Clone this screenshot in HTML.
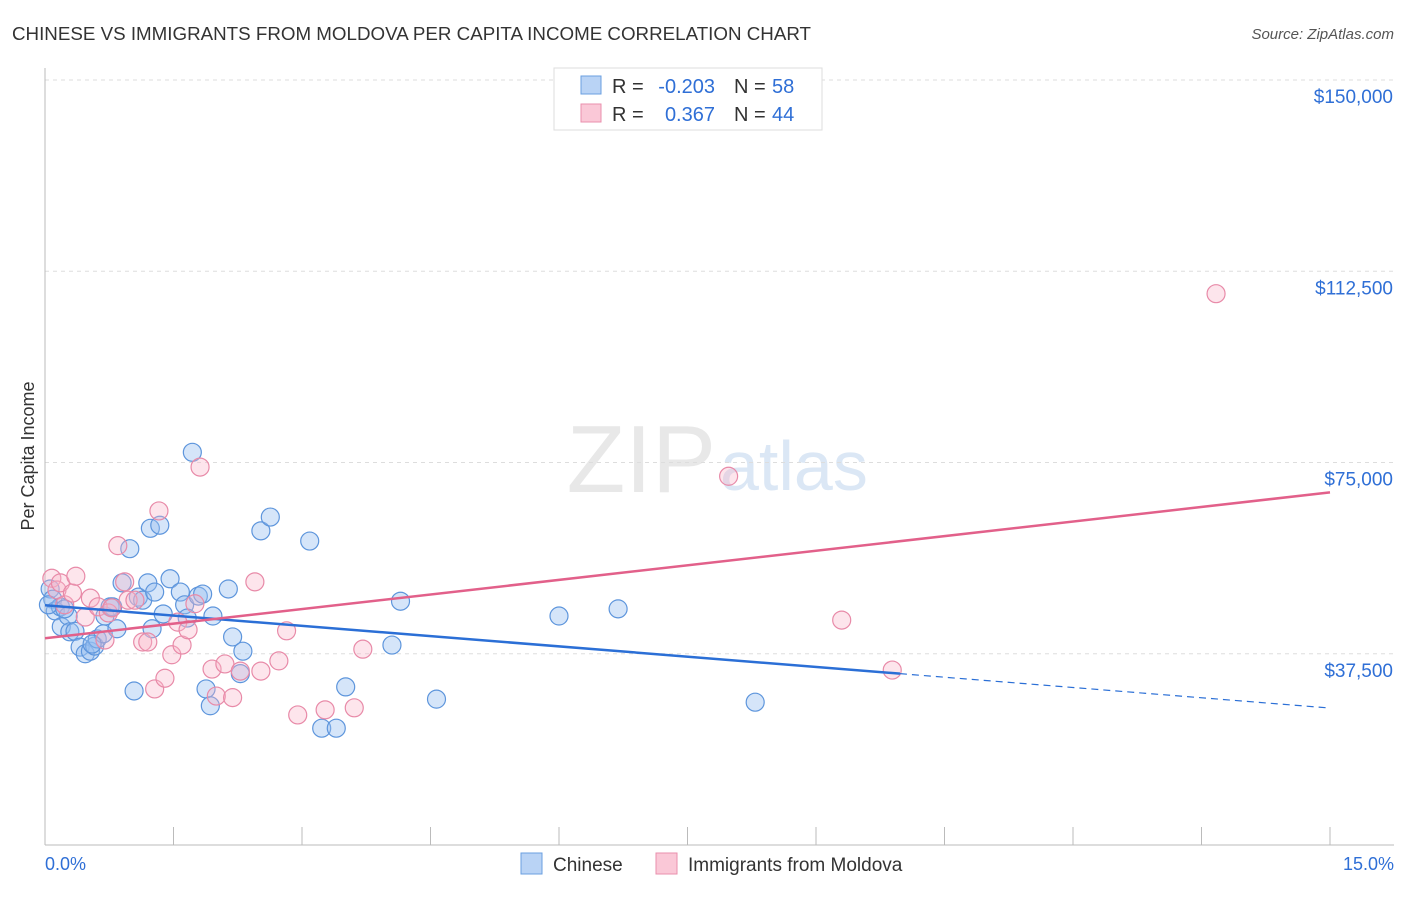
<!DOCTYPE html>
<html><head><meta charset="utf-8"><style>
body{margin:0;background:#fff;font-family:"Liberation Sans",sans-serif;}
svg text{font-family:"Liberation Sans",sans-serif;}
</style></head><body>
<svg id="c" width="1406" height="892" xmlns="http://www.w3.org/2000/svg">
<text x="12" y="40" font-size="18" fill="#333" textLength="799" lengthAdjust="spacingAndGlyphs">CHINESE VS IMMIGRANTS FROM MOLDOVA PER CAPITA INCOME CORRELATION CHART</text>
<text x="1394" y="39" font-size="15" fill="#555" font-style="italic" text-anchor="end">Source: ZipAtlas.com</text>
<text x="716" y="492" font-size="96" fill="#e8e8e8" text-anchor="end" font-family="Liberation Serif">ZIP</text>
<text x="720" y="490" font-size="70" fill="#dbe7f5">atlas</text>
<text transform="translate(34,456) rotate(-90)" font-size="18" fill="#333" text-anchor="middle">Per Capita Income</text>
<g id="grid"></g><g id="pts"></g><g id="lines"></g>
<g>
<rect x="554" y="68" width="268" height="62" fill="#fff" stroke="#ddd"/>
<rect x="581" y="76" width="20" height="18" fill="#b9d3f5" stroke="#6a9fe0"/>
<rect x="581" y="104" width="20" height="18" fill="#fac8d7" stroke="#ea8fac"/>
<text x="612" y="93" font-size="20" fill="#333">R =</text>
<text x="715" y="93" font-size="20" fill="#2f6fd6" text-anchor="end">-0.203</text>
<text x="734" y="93" font-size="20" fill="#333">N =</text>
<text x="772" y="93" font-size="20" fill="#2f6fd6">58</text>
<text x="612" y="121" font-size="20" fill="#333">R =</text>
<text x="715" y="121" font-size="20" fill="#2f6fd6" text-anchor="end">0.367</text>
<text x="734" y="121" font-size="20" fill="#333">N =</text>
<text x="772" y="121" font-size="20" fill="#2f6fd6">44</text>
</g>
<g>
<rect x="521" y="853" width="21" height="21" fill="#b9d3f5" stroke="#6a9fe0"/>
<text x="553" y="871" font-size="19" fill="#333">Chinese</text>
<rect x="656" y="853" width="21" height="21" fill="#fac8d7" stroke="#ea8fac"/>
<text x="688" y="871" font-size="19" fill="#333">Immigrants from Moldova</text>
</g>
<text x="45" y="870" font-size="18" fill="#2f6fd6">0.0%</text>
<text x="1394" y="870" font-size="18" fill="#2f6fd6" text-anchor="end">15.0%</text>
</svg>
<script>
const yTicks=[37500,75000,112500,150000];
const yTickLabels=["$37,500","$75,000","$112,500","$150,000"];
const blueX=[0.06,0.09,0.12,0.18,0.19,0.27,0.29,0.35,0.41,0.47,0.53,0.58,0.61,0.68,0.7,0.76,0.79,0.84,0.9,0.99,1.04,1.09,1.14,1.2,1.25,1.23,1.28,1.34,1.38,1.46,1.58,1.63,1.66,1.72,1.79,1.84,1.88,1.93,1.96,2.14,2.19,2.28,2.31,2.52,2.63,3.09,3.23,3.4,3.51,4.05,4.15,4.57,6.0,6.69,8.29,0.04,0.23,0.55];
const blueY=[50200,48200,45900,46700,42800,44900,41800,41900,38800,37500,38000,39000,40400,41400,44900,46700,46700,42400,51400,58100,30200,48600,48000,51400,42400,62100,49600,62700,45300,52200,49600,47100,44500,77000,48800,49200,30600,27300,44900,50200,40800,33600,38000,61600,64300,59600,22900,22900,31000,39200,47800,28600,44900,46300,28000,47100,46300,39400];
const pinkX=[0.08,0.14,0.18,0.23,0.32,0.36,0.47,0.53,0.62,0.7,0.74,0.78,0.85,0.93,0.97,1.05,1.14,1.2,1.28,1.33,1.4,1.48,1.55,1.6,1.67,1.75,1.81,1.95,2.0,2.1,2.19,2.28,2.45,2.52,2.73,2.82,2.95,3.27,3.61,3.71,7.98,9.3,9.89,13.67];
const pinkY=[52300,50000,51400,47100,49400,52700,44700,48400,46700,40200,45500,46500,58700,51600,48000,48000,39800,39800,30600,65500,32700,37300,43700,39200,42200,47300,74100,34500,29200,35500,28900,34100,51600,34100,36100,42000,25500,26500,26900,38400,72300,44100,34300,108100];
const X0=45,X1=1330,Y0=845,Y1=80;
const sx=v=>X0+(X1-X0)*v/15, sy=v=>Y0-(Y0-Y1)*v/150000;
const NS="http://www.w3.org/2000/svg";
function mk(t,a,p){const e=document.createElementNS(NS,t);for(const k in a)e.setAttribute(k,a[k]);p.appendChild(e);return e;}
const grid=document.getElementById('grid');
yTicks.forEach((v,i)=>{
 const l=mk('line',{x1:X0,x2:1394,y1:sy(v),y2:sy(v),stroke:'#ddd','stroke-dasharray':'4,4'},grid);
 
 
 const t=mk('text',{x:1393,y:sy(v)+23,'font-size':19,fill:'#2f6fd6','text-anchor':'end'},grid);
 t.textContent=yTickLabels[i];
 
 
});
mk('line',{x1:X0,x2:X0,y1:68,y2:Y0,stroke:'#bbb'},grid);
mk('line',{x1:X0,x2:1394,y1:Y0,y2:Y0,stroke:'#bbb'},grid);
for(let i=0;i<=10;i++){const x=sx(i*1.5);const t=mk('line',{x1:x,x2:x,y1:Y0-18,y2:Y0,stroke:'#bbb'},grid);
 
 }
const pts=document.getElementById('pts');
blueX.forEach((x,i)=>{const c=mk('circle',{cx:sx(x),cy:sy(blueY[i]),r:9,fill:'rgba(150,190,240,0.4)',stroke:'#5d95dc','stroke-width':1.2},pts);
 
 });
pinkX.forEach((x,i)=>{const c=mk('circle',{cx:sx(x),cy:sy(pinkY[i]),r:9,fill:'rgba(248,180,200,0.35)',stroke:'#e88aa8','stroke-width':1.2},pts);
 
 });
function fit(xs,ys){const n=xs.length;let mx=0,my=0;xs.forEach((x,i)=>{mx+=x;my+=ys[i]});mx/=n;my/=n;let a=0,b=0;xs.forEach((x,i)=>{a+=(x-mx)*(ys[i]-my);b+=(x-mx)*(x-mx)});const s=a/b;return x=>my+s*(x-mx);}
const L=document.getElementById('lines');
const fb=fit(blueX,blueY),fp=fit(pinkX,pinkY);
const bl=mk('line',{x1:sx(0),y1:sy(fb(0)),x2:sx(9.98),y2:sy(fb(9.98)),stroke:'#2b6fd6','stroke-width':2.5},L);


const bd=mk('line',{x1:sx(9.98),y1:sy(fb(9.98)),x2:sx(15),y2:sy(fb(15)),stroke:'#2b6fd6','stroke-width':1.2,'stroke-dasharray':'7,5'},L);


const pl=mk('line',{x1:sx(0),y1:sy(fp(0)),x2:sx(15),y2:sy(fp(15)),stroke:'#e2608a','stroke-width':2.5},L);


</script>
</body></html>
